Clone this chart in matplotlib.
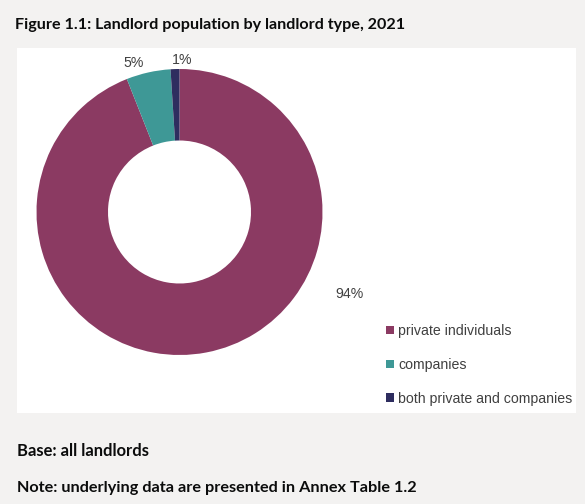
import matplotlib
matplotlib.use("Agg")
import matplotlib.pyplot as plt

# Landlord population by landlord type, 2021 (percent of all landlords)
categories = ["private individuals", "companies", "both private and companies"]
shares = [94, 5, 1]
colors = ["#8B3A62", "#3E9896", "#2E2D5F"]
value_labels = ["94%", "5%", "1%"]

W, H = 585, 504
fig = plt.figure(figsize=(W / 100, H / 100), dpi=100)
fig.patch.set_facecolor("#F3F2F1")

def px(x, y):
    return x / W, 1 - y / H

# white chart panel
panel = fig.add_axes([17 / W, (H - 413) / H, (576 - 17) / W, (413 - 48) / H], zorder=0)
panel.set_facecolor("white")
panel.set_xticks([])
panel.set_yticks([])
for s in panel.spines.values():
    s.set_visible(False)

# donut
cx, cy, r = 179.5, 212, 143
ax = fig.add_axes([(cx - r) / W, (H - cy - r) / H, 2 * r / W, 2 * r / H], zorder=1)
wedges, _ = ax.pie(shares, colors=colors, startangle=90, counterclock=False,
                   radius=1, wedgeprops=dict(width=0.5, edgecolor="none"))
ax.set_xlim(-1, 1)
ax.set_ylim(-1, 1)
ax.set_aspect("equal")
ax.axis("off")

label_pos = [(1.19, -0.57), (-0.32, 1.04), (0.015, 1.06)]
for (lx, ly), t in zip(label_pos, value_labels):
    ax.text(lx, ly, t, ha="center", va="center", fontsize=10.2,
            family="Liberation Sans", color="#404040", clip_on=False)

leg = fig.legend(wedges, categories, loc="upper left",
                 bbox_to_anchor=px(386, 324), frameon=False,
                 prop=dict(family="Liberation Sans", size=10.2),
                 handlelength=0.55, handleheight=0.55, handletextpad=0.3,
                 labelspacing=1.4, borderaxespad=0, borderpad=0)
leg.set_zorder(2)
for t in leg.get_texts():
    t.set_color("#404040")

# heading and footnotes
fig.text(*px(15, 25), "Figure 1.1: Landlord population by landlord type, 2021",
         ha="left", va="center", fontsize=11.6, fontweight="bold",
         family="Lato", color="#0B0C0C")
fig.text(*px(17, 451), "Base: all landlords", ha="left", va="center",
         fontsize=11.9, fontweight="bold", family="Lato", color="#0B0C0C")
fig.text(*px(17, 488), "Note: underlying data are presented in Annex Table 1.2",
         ha="left", va="center", fontsize=11.7, fontweight="bold",
         family="Lato", color="#0B0C0C")

fig.savefig("out.png", dpi=100, facecolor=fig.get_facecolor())
